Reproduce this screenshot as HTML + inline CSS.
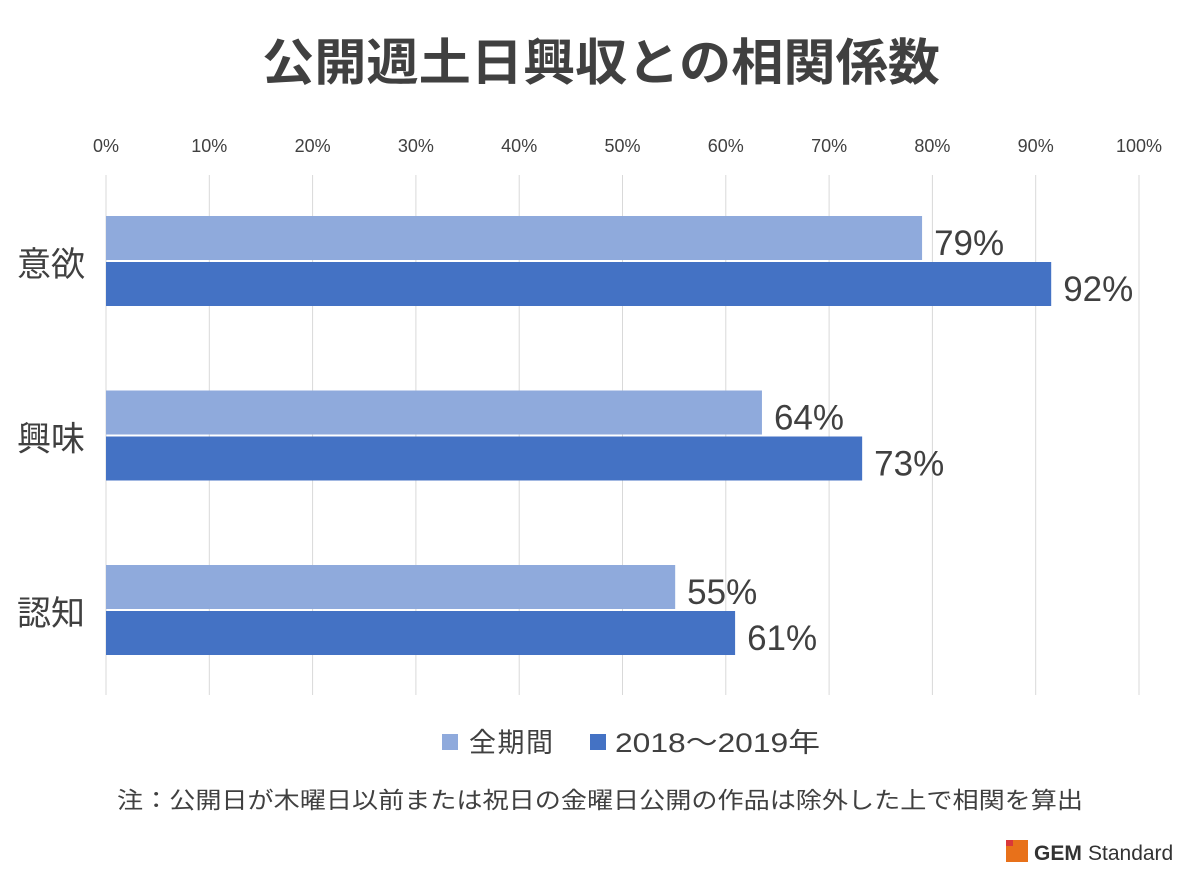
<!DOCTYPE html>
<html><head><meta charset="utf-8"><style>
body{margin:0;width:1200px;height:873px;background:#fff;overflow:hidden;font-family:"Liberation Sans","Noto Sans CJK JP",sans-serif;}
</style></head><body>
<svg width="1200" height="873" style="position:absolute;left:0;top:0" font-family="Liberation Sans, Noto Sans CJK JP, sans-serif">
<text x="262" y="80" textLength="678" lengthAdjust="spacingAndGlyphs" font-size="50" font-weight="bold" fill="#404040">公開週土日興収との相関係数</text>
<g id="grid"></g><g id="bars"></g>
<g>
<rect x="442" y="734" width="16" height="16" fill="#8faadc"/>
<text x="469" y="752" textLength="84" font-size="27" fill="#404040">全期間</text>
<rect x="590" y="734" width="16" height="16" fill="#4472c4"/>
<text x="615" y="752" textLength="205" lengthAdjust="spacingAndGlyphs" font-size="27" fill="#404040">2018～2019年</text>
</g>
<text x="117" y="808" textLength="966" lengthAdjust="spacingAndGlyphs" font-size="23" fill="#404040">注：公開日が木曜日以前または祝日の金曜日公開の作品は除外した上で相関を算出</text>
<g>
<rect x="1006" y="840" width="22" height="22" fill="#e8711a"/><rect x="1006" y="840" width="7" height="6" fill="#d9383a"/>
<text x="1034" y="860" font-size="21" font-weight="bold" fill="#333">GEM</text>
<text x="1088" y="860" font-size="21" fill="#333">Standard</text>
</g>
</svg>
<script>
const categories=["意欲","興味","認知"];
const allPeriod=[79,63.5,55.1];
const recent=[91.5,73.2,60.9];
const allLabels=["79%","64%","55%"];
const recentLabels=["92%","73%","61%"];
const ticks=[0,10,20,30,40,50,60,70,80,90,100];
const NS="http://www.w3.org/2000/svg";
const x=v=>106+v*10.33;
const catY=i=>216+i*174.5;
function mk(t,a,p){const e=document.createElementNS(NS,t);for(const k in a)e.setAttribute(k,a[k]);p.appendChild(e);return e;}
const grid=document.getElementById('grid'),bars=document.getElementById('bars');
ticks.forEach(t=>{
 const l=mk('line',{x1:x(t),x2:x(t),y1:175,y2:695,stroke:'#d9d9d9','stroke-width':1},grid);
 
 
 const tx=mk('text',{x:x(t),y:152,'text-anchor':'middle','font-size':18,fill:'#404040'},grid);
 tx.textContent=t+'%';
 
 
});
categories.forEach((c,i)=>{
 const y=catY(i);
 const ct=mk('text',{x:17,y:y+60,'font-size':34,fill:'#404040'},bars);
 ct.textContent=c;
 
 
 const b1=mk('rect',{x:x(0),y:y,width:x(allPeriod[i])-x(0),height:44,fill:'#8faadc'},bars);
 
 
 const b2=mk('rect',{x:x(0),y:y+46,width:x(recent[i])-x(0),height:44,fill:'#4472c4'},bars);
 
 
 const l1=mk('text',{x:x(allPeriod[i])+12,y:y+39,'font-size':35,fill:'#404040'},bars);
 l1.textContent=allLabels[i];
 
 
 const l2=mk('text',{x:x(recent[i])+12,y:y+85,'font-size':35,fill:'#404040'},bars);
 l2.textContent=recentLabels[i];
 
 
});
mk('line',{x1:106,x2:106,y1:175,y2:695,stroke:'#d9d9d9'},grid);
</script>
</body></html>
